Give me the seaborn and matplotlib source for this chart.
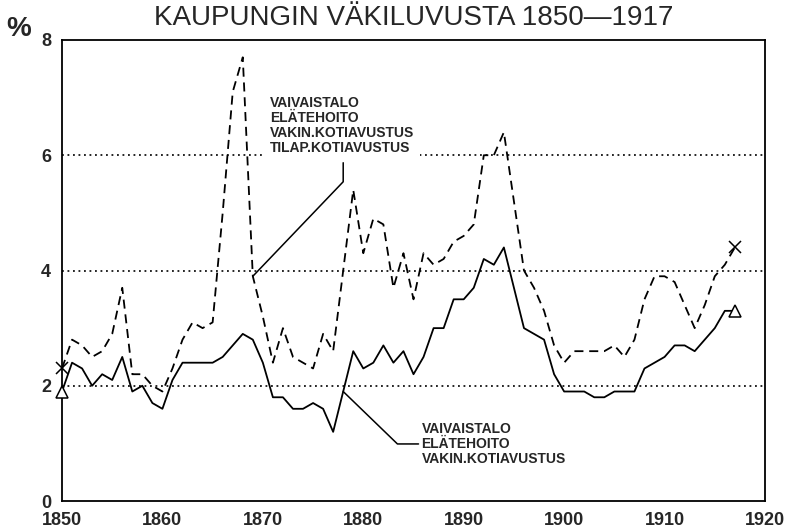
import matplotlib
matplotlib.use("Agg")
import matplotlib.pyplot as plt
import seaborn as sns
import pandas as pd

# ---- data ----
years = list(range(1850, 1918))

# VAIVAISTALO + ELÄTEHOITO + VAKIN.KOTIAVUSTUS + TILAP.KOTIAVUSTUS (dashed)
total_pct = [2.3, 2.8, 2.7, 2.5, 2.6, 2.9, 3.7, 2.2, 2.2, 2.0,
             1.9, 2.3, 2.8, 3.1, 3.0, 3.1, 5.0, 7.1, 7.7, 3.9,
             3.2, 2.4, 3.0, 2.5, 2.4, 2.3, 2.9, 2.6, 4.0, 5.4,
             4.3, 4.9, 4.8, 3.7, 4.3, 3.5, 4.3, 4.1, 4.2, 4.5,
             4.6, 4.8, 6.0, 6.0, 6.4, 5.2, 4.0, 3.7, 3.3, 2.7,
             2.4, 2.6, 2.6, 2.6, 2.6, 2.7, 2.5, 2.8, 3.5, 3.9,
             3.9, 3.8, 3.4, 3.0, 3.4, 3.9, 4.1, 4.4]

# VAIVAISTALO + ELÄTEHOITO + VAKIN.KOTIAVUSTUS (solid)
perm_pct = [1.9, 2.4, 2.3, 2.0, 2.2, 2.1, 2.5, 1.9, 2.0, 1.7,
            1.6, 2.1, 2.4, 2.4, 2.4, 2.4, 2.5, 2.7, 2.9, 2.8,
            2.4, 1.8, 1.8, 1.6, 1.6, 1.7, 1.6, 1.2, 1.9, 2.6,
            2.3, 2.4, 2.7, 2.4, 2.6, 2.2, 2.5, 3.0, 3.0, 3.5,
            3.5, 3.7, 4.2, 4.1, 4.4, 3.7, 3.0, 2.9, 2.8, 2.2,
            1.9, 1.9, 1.9, 1.8, 1.8, 1.9, 1.9, 1.9, 2.3, 2.4,
            2.5, 2.7, 2.7, 2.6, 2.8, 3.0, 3.3, 3.3]

x_ticks = list(range(1850, 1921, 10))
y_ticks = [0, 2, 4, 6, 8]
grid_levels = [2, 4, 6]

title = "KAUPUNGIN VÄKILUVUSTA 1850\u20141917"
label_total = "VAIVAISTALO\nELÄTEHOITO\nVAKIN.KOTIAVUSTUS\nTILAP.KOTIAVUSTUS"
label_perm = "VAIVAISTALO\nELÄTEHOITO\nVAKIN.KOTIAVUSTUS"

df = pd.DataFrame({"year": years, "total": total_pct, "perm": perm_pct})

sns.set_style("white")
plt.rcParams["font.family"] = ["Liberation Sans", "DejaVu Sans"]

W, H = 793, 530
fig = plt.figure(figsize=(W / 100, H / 100), dpi=100)
ax = fig.add_axes([62 / W, 29 / H, 703 / W, 461 / H])

for lv in grid_levels:
    ax.axhline(lv, color="black", lw=1.2, ls=(0, (1.1, 2.2)), zorder=1)

sns.lineplot(data=df, x="year", y="total", ax=ax, color="black",
             lw=1.3, linestyle=(0, (5.0, 3.2)), zorder=3)
sns.lineplot(data=df, x="year", y="perm", ax=ax, color="black",
             lw=1.3, zorder=3)

ends = df.iloc[[0, -1]]
ax.plot(ends["year"], ends["total"], "x", color="black", ms=9, mew=1.1,
        clip_on=False, zorder=4)
ax.plot(ends["year"], ends["perm"], "^", mfc="white", mec="black", ms=8,
        mew=1.1, clip_on=False, zorder=4)

ax.set_xlim(1850, 1920)
ax.set_ylim(0, 8)
ax.set_xticks(x_ticks)
ax.set_yticks(y_ticks)
ax.set_xlabel("")
ax.set_ylabel("")
ax.tick_params(direction="out", length=5, width=1.2, color="black",
               labelsize=13, pad=3)
for lab in ax.get_xticklabels() + ax.get_yticklabels():
    lab.set_fontweight("bold")
for sp in ax.spines.values():
    sp.set_visible(True)
    sp.set_color("black")
    sp.set_linewidth(1.3)

# upper annotation
i_up = years.index(1869)
ax.text(1870.7, 7.02, label_total, va="top", ha="left", fontsize=10,
        fontweight="bold", linespacing=1.07, zorder=5,
        bbox=dict(fc="white", ec="none", pad=4))
ax.plot([1878.0, 1878.0, years[i_up]], [5.87, 5.54, total_pct[i_up]],
        color="black", lw=1.1, zorder=5)

# lower annotation
i_lo = years.index(1878)
ax.text(1885.8, 1.37, label_perm, va="top", ha="left", fontsize=10,
        fontweight="bold", linespacing=1.07, zorder=5)
ax.plot([years[i_lo], 1883.4, 1885.5], [perm_pct[i_lo], 0.99, 0.99],
        color="black", lw=1.1, zorder=5)

fig.text(414 / W, 1 - 25 / H, title, ha="center", va="baseline",
         fontsize=20)
fig.text(19 / W, 1 - 29 / H, "%", ha="center", va="center", fontsize=20,
         fontweight="bold")

fig.savefig("out.png", dpi=100)
